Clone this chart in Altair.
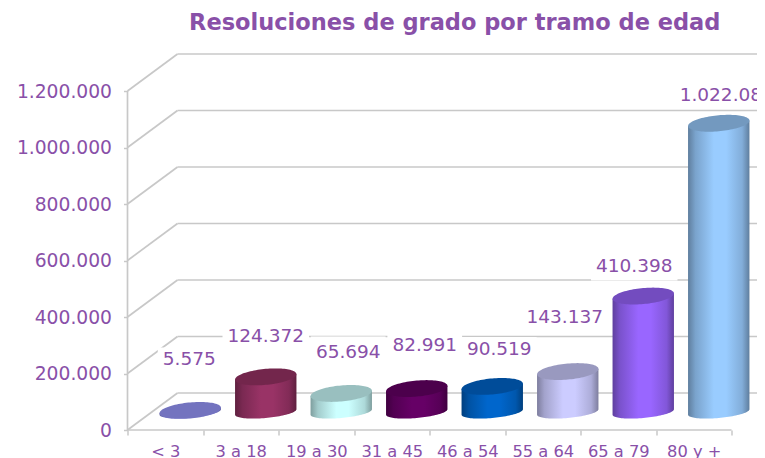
import math
import altair as alt
import pandas as pd

# ---- chart values
CATEGORIES = ["< 3", "3 a 18", "19 a 30", "31 a 45", "46 a 54", "55 a 64", "65 a 79", "80 y +"]
VALUES = [5575, 124372, 65694, 82991, 90519, 143137, 410398, 1022084]
Y_TICKS = [0, 200000, 400000, 600000, 800000, 1000000, 1200000]
BODY_COLORS = ["#9999FF", "#993366", "#CCFFFF", "#660066", "#0066CC", "#CCCCFF", "#9966FF", "#99CCFF"]

# ---- layout (pixels of the projected 3D box)
PLOT_W, PLOT_H = 629.5, 376.0
PX_PER_BAND = 75.5
PX_PER_200K = 56.5
DEPTH_X, DEPTH_Y = 50.0, 37.0
BASE_LIFT = 18.0
BAR_SHIFT = 25.0
RX, TILT, RY_TOP, RY_BOTTOM = 30.7, 2.7, 8.0, 6.0
LABEL_OFFSETS = [(-1, -51), (0, -41), (7, -41), (8, -43.5), (7, -37.5), (-3, -54.5), (-9, -30), (8, -28)]
MASK_UP = [12, 12, 16, 12, 12, 12, 12, 12]
MASK_DOWN = [12, 12, 12, 12, 12, 12, 14.4, 12]
LABEL_COLOR = "#8950A8"
GRID = "#C8C8C8"
FONT = "DejaVu Sans"

ux = 1 / PX_PER_BAND
uy = 200000 / PX_PER_200K
X_SCALE = alt.Scale(domain=[0, PLOT_W * ux], nice=False, zero=False)
Y_SCALE = alt.Scale(domain=[0, PLOT_H * uy], nice=False, zero=False)
X_AXIS = alt.Axis(
    values=list(range(9)), grid=False, domain=False, tickColor=GRID, tickWidth=1.5, tickSize=5,
    labelExpr="[" + ",".join(f"'{c}'" for c in CATEGORIES) + ",''][datum.value]",
    labelOffset=PX_PER_BAND / 2, labelColor=LABEL_COLOR, labelFont=FONT, labelFontSize=16.3,
    labelPadding=8, labelOverlap=False, labelFlush=False, labelAngle=0, title=None)
Y_AXIS = alt.Axis(
    values=Y_TICKS, grid=False, domain=False, tickColor=GRID, tickWidth=1.5, tickSize=4,
    labelExpr="replace(format(datum.value, ','), regexp(',', 'g'), '.')",
    labelColor=LABEL_COLOR, labelFont=FONT, labelFontSize=18.7, labelPadding=12, labelOverlap=False,
    title=None)


def shade(color, k):
    r, g, b = (int(color[i:i + 2], 16) for i in (1, 3, 5))
    return "#%02X%02X%02X" % (round(r * k), round(g * k), round(b * k))


def label_text(v):
    return f"{v:,}".replace(",", ".")


def X(field):
    return alt.X(field, type="quantitative", scale=X_SCALE, axis=X_AXIS)


def Y(field):
    return alt.Y(field, type="quantitative", scale=Y_SCALE, axis=Y_AXIS, stack=None)


# ---- walls: projected gridlines and axis lines
segments = [dict(x=0, x2=0, y=0, y2=Y_TICKS[-1]), dict(x=0, x2=8, y=0, y2=0)]
for t in Y_TICKS:
    segments.append(dict(x=0, x2=DEPTH_X * ux, y=t, y2=t + DEPTH_Y * uy))
    segments.append(dict(x=DEPTH_X * ux, x2=PLOT_W * ux, y=t + DEPTH_Y * uy, y2=t + DEPTH_Y * uy))
grid = alt.Chart(pd.DataFrame(segments)).mark_rule(color=GRID, strokeWidth=1.7).encode(
    x=X("x"), x2="x2:Q", y=Y("y"), y2="y2:Q")

# ---- data labels and the white boxes behind them
rows = []
for i, (v, (dx, dy)) in enumerate(zip(VALUES, LABEL_OFFSETS)):
    lx = i + 0.5 + (BAR_SHIFT + dx) * ux
    ly = v + (BASE_LIFT - dy) * uy
    text = label_text(v)
    half = (len(text) - text.count(".")) * 0.636 * 9.25 + text.count(".") * 0.318 * 9.25 + 5
    rows.append(dict(x=lx, y=ly, label=text, x0=lx - half * ux, x1=lx + half * ux,
                     y0=ly - MASK_DOWN[i] * uy, y1=ly + MASK_UP[i] * uy))
label_df = pd.DataFrame(rows)
masks = alt.Chart(label_df).mark_rect(color="white").encode(
    x=X("x0"), x2="x1:Q", y=Y("y0"), y2="y1:Q")
labels = alt.Chart(label_df).mark_text(
    color=LABEL_COLOR, font=FONT, fontSize=18.5, align="center", baseline="middle"
).encode(x=X("x"), y=Y("y"), text="label:N")

# ---- cylinders
cylinders = []
N = 48
angles = [math.pi * k / N for k in range(N + 1)]
for i, (v, color) in enumerate(zip(VALUES, BODY_COLORS)):
    cx = i + 0.5 + BAR_SHIFT * ux
    base = BASE_LIFT * uy
    top = base + v
    xs = [cx + RX * ux * math.cos(a) for a in angles]
    ramp = [math.cos(a) * TILT * uy for a in angles]
    body_df = pd.DataFrame({
        "x": xs,
        "hi": [top + r for r in ramp],
        "lo": [base + r - RY_BOTTOM * uy * math.sin(a) for r, a in zip(ramp, angles)],
    })
    cap_df = pd.DataFrame({
        "x": xs,
        "hi": [top + r + RY_TOP * uy * math.sin(a) for r, a in zip(ramp, angles)],
        "lo": [top + r - RY_TOP * uy * math.sin(a) for r, a in zip(ramp, angles)],
    })
    gradient = alt.LinearGradient(
        gradient="linear", x1=0, x2=1, y1=0, y2=0,
        stops=[
            alt.GradientStop(offset=0.0, color=shade(color, 0.62)),
            alt.GradientStop(offset=0.12, color=shade(color, 0.8)),
            alt.GradientStop(offset=0.42, color=color),
            alt.GradientStop(offset=0.62, color=color),
            alt.GradientStop(offset=0.88, color=shade(color, 0.85)),
            alt.GradientStop(offset=1.0, color=shade(color, 0.62)),
        ])
    cylinders.append(alt.Chart(body_df).mark_area(fill=gradient, orient="vertical").encode(
        x=X("x"), y=Y("hi"), y2="lo:Q"))
    cylinders.append(alt.Chart(cap_df).mark_area(fill=shade(color, 0.75), orient="vertical").encode(
        x=X("x"), y=Y("hi"), y2="lo:Q"))

chart = alt.layer(grid, masks, *cylinders, labels).properties(
    width=PLOT_W,
    height=PLOT_H,
    background="white",
    padding={"left": 119.5, "top": 46, "right": 0, "bottom": 28},
    autosize=alt.AutoSizeParams(type="none"),
    title=alt.Title(
        "Resoluciones de grado por tramo de edad",
        font=FONT, fontSize=22.5, fontWeight="bold", color=LABEL_COLOR,
        anchor="middle", dx=12.5, offset=1, baseline="alphabetic",
    ),
).configure_view(stroke=None)

chart.save("out.html", embed_options={"renderer": "svg", "actions": False})
